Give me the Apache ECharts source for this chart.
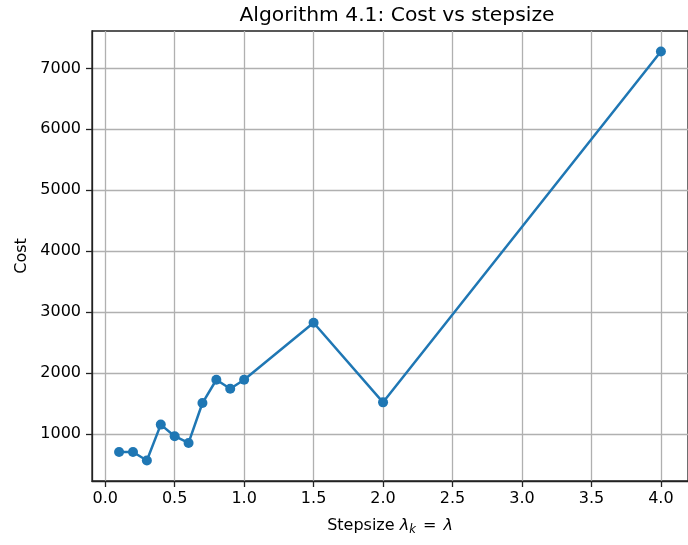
<!DOCTYPE html>
<html>
<head>
<meta charset="utf-8">
<script src="https://cdn.jsdelivr.net/npm/echarts@6/dist/echarts.min.js"></script>
<style>
  html, body { margin: 0; padding: 0; background: #fff; }
  #chart { width: 688px; height: 545px; }
</style>
</head>
<body>
<div id="chart"></div>
<script>
// stepsize values and measured cost
const stepsizes = [0.1, 0.2, 0.3, 0.4, 0.5, 0.6, 0.7, 0.8, 0.9, 1.0, 1.5, 2.0, 4.0]
const costs = [706, 706, 565, 1155, 964, 854, 1509, 1891, 1744, 1891, 2826, 1520, 7278]
const xTicks = [0.0, 0.5, 1.0, 1.5, 2.0, 2.5, 3.0, 3.5, 4.0]
const yTicks = [1000, 2000, 3000, 4000, 5000, 6000, 7000]

// matplotlib-like 5% autoscale margins
function padded(vals) {
	const lo = Math.min(...vals)
	const hi = Math.max(...vals)
	const m = (hi - lo) * 0.05
	return [lo - m, hi + m]
}
const [xMin, xMax] = padded(stepsizes)
const [yMin, yMax] = padded(costs)

const font = 'DejaVu Sans'
const chart = echarts.init(document.getElementById('chart'), null, { renderer: 'canvas' })

chart.setOption({
	animation: false,
	backgroundColor: '#fff',
	title: {
		text: 'Algorithm 4.1: Cost vs stepsize',
		left: 392,
		top: 1,
		textAlign: 'center',
		textStyle: { fontFamily: font, fontSize: 20.3, fontWeight: 'normal', color: '#000' }
	},
	grid: {
		left: 92,
		top: 31,
		width: 604,
		height: 450,
		show: true,
		borderColor: '#222',
		borderWidth: 1.3,
		backgroundColor: '#fff'
	},
	xAxis: {
		type: 'value',
		min: xMin,
		max: xMax,
		interval: 0.5,
		name: 'Stepsize {i|λ}{s|k}{n| = }{i|λ}',
		nameLocation: 'middle',
		nameGap: 35,
		nameTextStyle: {
			fontFamily: font,
			fontSize: 16,
			color: '#000',
			rich: {
				i: { fontFamily: font, fontSize: 16, fontStyle: 'italic', color: '#000', lineHeight: 20 },
				s: { fontFamily: font, fontSize: 11.5, fontStyle: 'italic', color: '#000', lineHeight: 12, verticalAlign: 'bottom' },
				n: { fontFamily: font, fontSize: 16, color: '#000', lineHeight: 20, padding: [0, 2, 0, 2] }
			}
		},
		axisLine: { show: true, onZero: false, lineStyle: { color: '#222', width: 1.3 } },
		axisTick: { show: true, inside: false, length: 6, lineStyle: { color: '#222', width: 1.3 }, customValues: xTicks },
		axisLabel: {
			fontFamily: font,
			fontSize: 16,
			color: '#000',
			margin: 10,
			customValues: xTicks,
			formatter: (v) => v.toFixed(1)
		},
		splitLine: { show: true, lineStyle: { color: '#b0b0b0', width: 1.3 } }
	},
	yAxis: {
		type: 'value',
		min: yMin,
		max: yMax,
		interval: 1000,
		name: 'Cost',
		nameLocation: 'middle',
		nameRotate: 90,
		nameGap: 60,
		nameTextStyle: { fontFamily: font, fontSize: 16, color: '#000' },
		axisLine: { show: true, onZero: false, lineStyle: { color: '#222', width: 1.3 } },
		axisTick: { show: true, inside: false, length: 6, lineStyle: { color: '#222', width: 1.3 }, customValues: yTicks },
		axisLabel: {
			fontFamily: font,
			fontSize: 16,
			color: '#000',
			margin: 11,
			customValues: yTicks,
			formatter: (v) => String(v)
		},
		splitLine: { show: true, lineStyle: { color: '#b0b0b0', width: 1.3 } }
	},
	series: [
		{
			type: 'line',
			data: stepsizes.map((x, i) => [x, costs[i]]),
			symbol: 'circle',
			symbolSize: 10,
			showAllSymbol: true,
			itemStyle: { color: '#1f77b4' },
			lineStyle: { color: '#1f77b4', width: 2.5 },
			clip: false
		}
	]
})
</script>
</body>
</html>
